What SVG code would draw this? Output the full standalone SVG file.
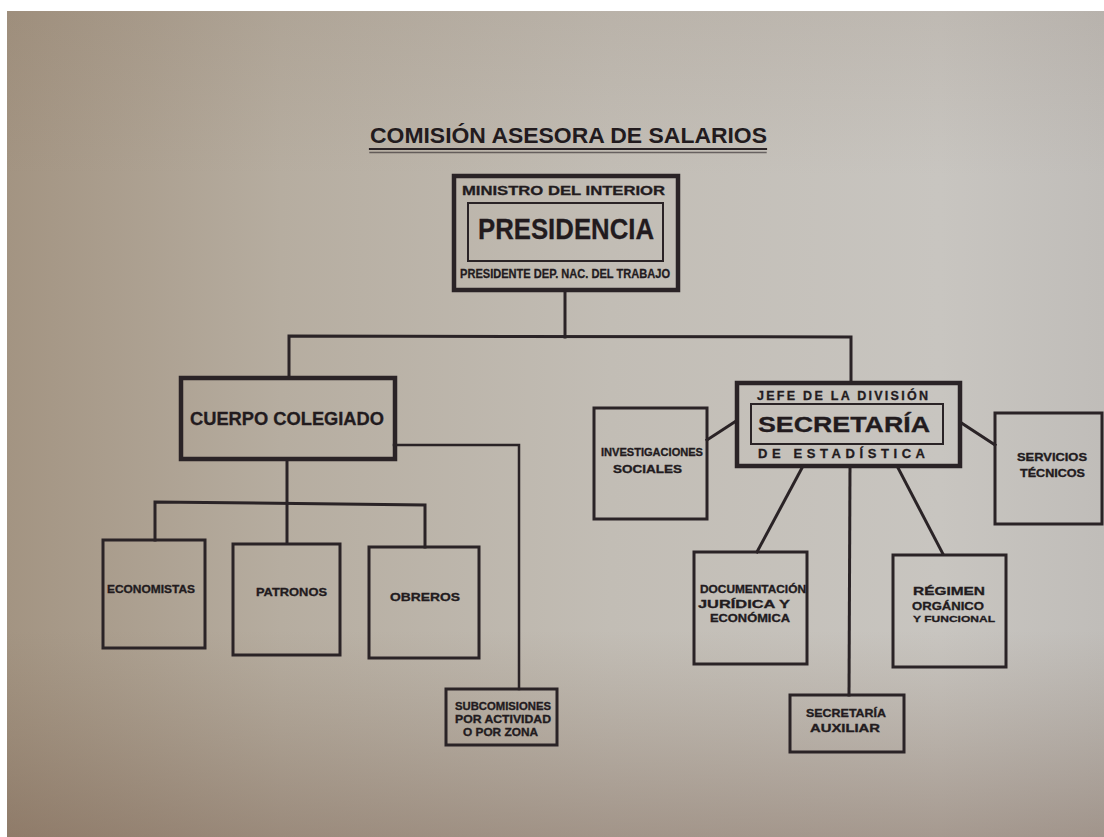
<svg xmlns="http://www.w3.org/2000/svg" width="1104" height="837" viewBox="0 0 1104 837">
<defs>
<linearGradient id="paperH" x1="0" y1="0" x2="1" y2="0">
<stop offset="0" stop-color="#a39482"/>
<stop offset="0.25" stop-color="#b6ada0"/>
<stop offset="0.55" stop-color="#c2bdb5"/>
<stop offset="0.85" stop-color="#c8c5c0"/>
<stop offset="1" stop-color="#c0bdb9"/>
</linearGradient>
<linearGradient id="paperV" x1="0" y1="0" x2="0" y2="1">
<stop offset="0" stop-color="#7a6450" stop-opacity="0.12"/>
<stop offset="0.2" stop-color="#7a6450" stop-opacity="0"/>
<stop offset="0.75" stop-color="#7a6450" stop-opacity="0"/>
<stop offset="1" stop-color="#6e5240" stop-opacity="0.38"/>
</linearGradient>
<style>
.ln{stroke:#2a2326;fill:none;stroke-linecap:square}
.bx{stroke:#2a2326;fill:none;stroke-width:3}
.bxk{stroke:#2a2326;fill:none;stroke-width:4.5}
.in{stroke:#2a2326;fill:none;stroke-width:2}
text{font-family:"Liberation Sans",Arial,sans-serif;font-weight:bold;fill:#221b1e;stroke:#221b1e;stroke-width:0.3}
.s{font-size:11px}
.m{font-size:12.5px}
</style>
</defs>
<rect x="0" y="0" width="1104" height="837" fill="#ffffff"/>
<rect x="7" y="11" width="1097" height="826" fill="url(#paperH)"/>
<rect x="7" y="11" width="1097" height="826" fill="url(#paperV)"/>

<g id="title">
<text x="370" y="143" font-size="22" textLength="397" lengthAdjust="spacingAndGlyphs" style="font-weight:600;stroke-width:0">COMISIÓN ASESORA DE SALARIOS</text>
<line class="ln" x1="370" y1="149" x2="766" y2="149" stroke-width="2.2"/>
<line class="ln" x1="370" y1="152.5" x2="766" y2="152.5" stroke-width="1.4" stroke-opacity="0.6"/>
</g>

<g id="connectors">
<line class="ln" x1="565" y1="290" x2="565" y2="337" stroke-width="3"/>
<polyline class="ln" points="289,378 289,336 851,337 851,383" stroke-width="3"/>
<polyline class="ln" points="394,445 519,445 519,689" stroke-width="2.5"/>
<line class="ln" x1="287" y1="459" x2="287" y2="543" stroke-width="3"/>
<polyline class="ln" points="155,540 155,502 425,505 425,547" stroke-width="3"/>
<line class="ln" x1="707" y1="440" x2="736" y2="421" stroke-width="3"/>
<line class="ln" x1="960" y1="422" x2="995" y2="445" stroke-width="3"/>
<line class="ln" x1="803" y1="466" x2="757" y2="552" stroke-width="3"/>
<line class="ln" x1="850" y1="466" x2="849" y2="695" stroke-width="3"/>
<line class="ln" x1="897" y1="466" x2="943" y2="554" stroke-width="3"/>
</g>

<g id="presidencia">
<rect class="bxk" x="454" y="176" width="224" height="114"/>
<rect class="in" x="468" y="203" width="195" height="58"/>
<text x="462" y="195" class="m" textLength="203" lengthAdjust="spacingAndGlyphs">MINISTRO DEL INTERIOR</text>
<text x="478" y="239" font-size="29" textLength="176" lengthAdjust="spacingAndGlyphs">PRESIDENCIA</text>
<text x="460" y="278" font-size="13" textLength="210" lengthAdjust="spacingAndGlyphs">PRESIDENTE DEP. NAC. DEL TRABAJO</text>
</g>

<g id="cuerpo-colegiado">
<rect class="bxk" x="181" y="378" width="214" height="81"/>
<text x="190" y="425" font-size="18.5" textLength="194" lengthAdjust="spacingAndGlyphs">CUERPO COLEGIADO</text>
</g>

<g id="economistas">
<rect class="bx" x="103" y="540" width="102" height="108"/>
<text x="107" y="593" class="s" textLength="88" lengthAdjust="spacingAndGlyphs">ECONOMISTAS</text>
</g>

<g id="patronos">
<rect class="bx" x="233" y="544" width="107" height="111"/>
<text x="256" y="596" class="s" textLength="71" lengthAdjust="spacingAndGlyphs">PATRONOS</text>
</g>

<g id="obreros">
<rect class="bx" x="369" y="547" width="110" height="111"/>
<text x="390" y="601" class="s" textLength="70" lengthAdjust="spacingAndGlyphs">OBREROS</text>
</g>

<g id="subcomisiones">
<rect class="bx" x="446" y="689" width="111" height="56"/>
<text x="455" y="710" font-size="10" textLength="96" lengthAdjust="spacingAndGlyphs">SUBCOMISIONES</text>
<text x="455" y="723" font-size="10" textLength="96" lengthAdjust="spacingAndGlyphs">POR ACTIVIDAD</text>
<text x="463" y="736" font-size="10" textLength="75" lengthAdjust="spacingAndGlyphs">O POR ZONA</text>
</g>

<g id="secretaria">
<rect class="bxk" x="737" y="383" width="223" height="83"/>
<rect class="in" x="751" y="404" width="192" height="40"/>
<text x="757" y="400" class="m" textLength="171" lengthAdjust="spacing">JEFE DE LA DIVISIÓN</text>
<text x="758" y="432" font-size="22" textLength="172" lengthAdjust="spacingAndGlyphs">SECRETARÍA</text>
<text x="758" y="458" font-size="13" textLength="167" lengthAdjust="spacing">DE ESTADÍSTICA</text>
</g>

<g id="investigaciones-sociales">
<rect class="bx" x="594" y="408" width="113" height="111"/>
<text x="601" y="456" font-size="10" textLength="102" lengthAdjust="spacingAndGlyphs">INVESTIGACIONES</text>
<text x="613" y="473" font-size="10.5" textLength="69" lengthAdjust="spacingAndGlyphs">SOCIALES</text>
</g>

<g id="servicios-tecnicos">
<rect class="bx" x="995" y="413" width="107" height="111"/>
<text x="1017" y="461" font-size="10" textLength="70" lengthAdjust="spacingAndGlyphs">SERVICIOS</text>
<text x="1020" y="477" font-size="10" textLength="65" lengthAdjust="spacingAndGlyphs">TÉCNICOS</text>
</g>

<g id="documentacion">
<rect class="bx" x="694" y="552" width="113" height="112"/>
<text x="700" y="593" font-size="10" textLength="106" lengthAdjust="spacingAndGlyphs">DOCUMENTACIÓN</text>
<text x="698" y="608" font-size="11" textLength="92" lengthAdjust="spacingAndGlyphs">JURÍDICA Y</text>
<text x="710" y="622" font-size="10" textLength="80" lengthAdjust="spacingAndGlyphs">ECONÓMICA</text>
</g>

<g id="regimen">
<rect class="bx" x="893" y="555" width="113" height="112"/>
<text x="913" y="595" font-size="11" textLength="72" lengthAdjust="spacingAndGlyphs">RÉGIMEN</text>
<text x="912" y="610" font-size="11" textLength="72" lengthAdjust="spacingAndGlyphs">ORGÁNICO</text>
<text x="913" y="622" font-size="9.5" textLength="82" lengthAdjust="spacingAndGlyphs">Y FUNCIONAL</text>
</g>

<g id="secretaria-auxiliar">
<rect class="bx" x="790" y="695" width="114" height="57"/>
<text x="806" y="717" font-size="10" textLength="80" lengthAdjust="spacingAndGlyphs">SECRETARÍA</text>
<text x="810" y="732" font-size="10" textLength="70" lengthAdjust="spacingAndGlyphs">AUXILIAR</text>
</g>
</svg>
